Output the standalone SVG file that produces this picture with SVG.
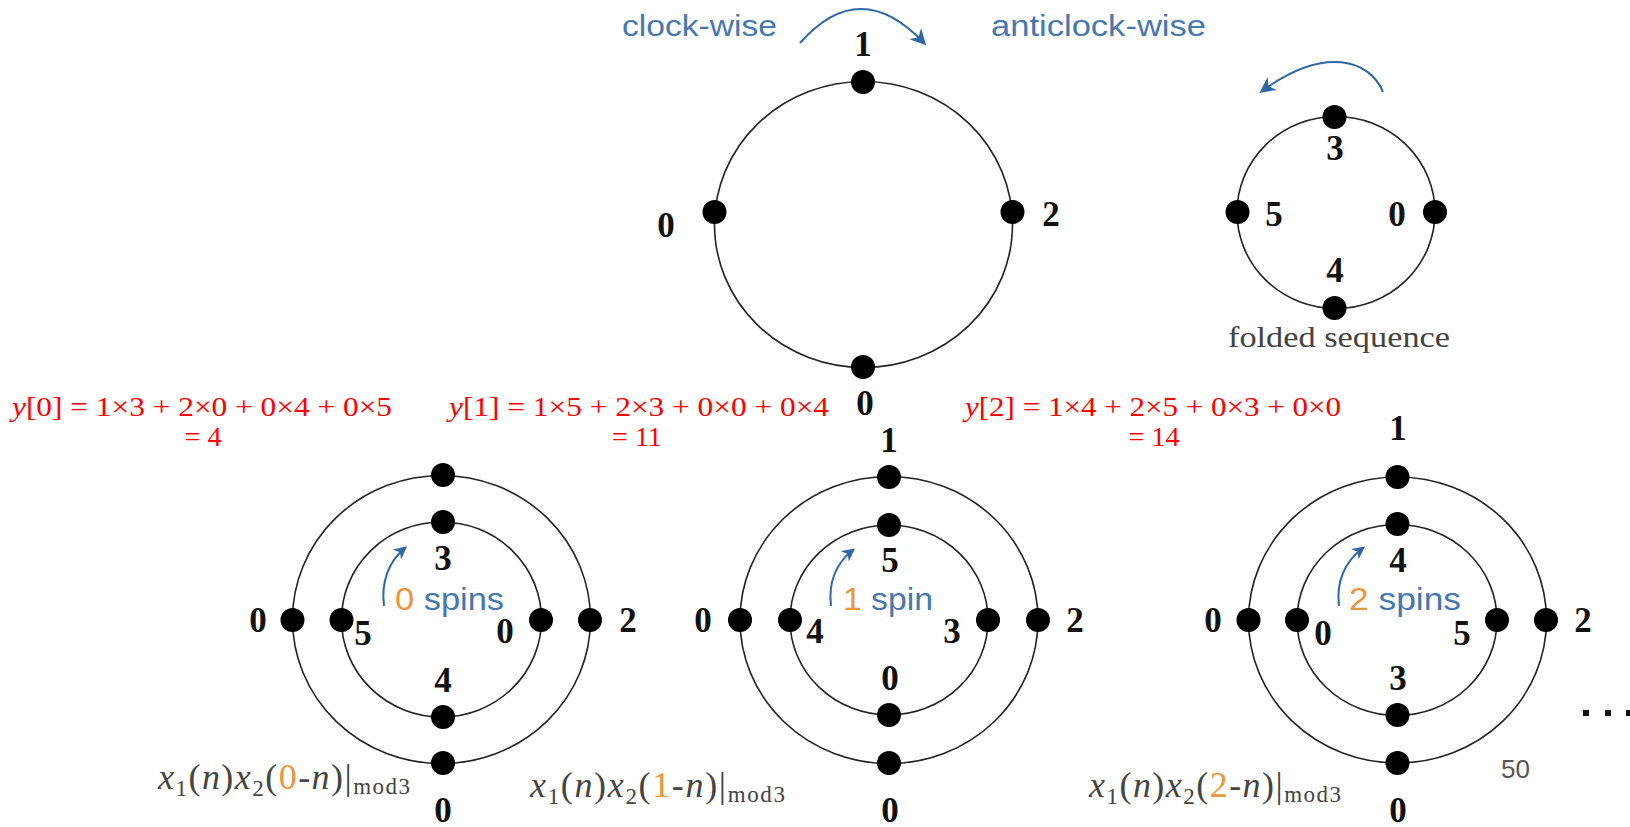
<svg xmlns="http://www.w3.org/2000/svg" width="1630" height="827" viewBox="0 0 1630 827">
<defs>
<marker id="ah" viewBox="0 0 10 10" refX="8" refY="5" markerWidth="16" markerHeight="16" markerUnits="userSpaceOnUse" orient="auto">
<path d="M0,0 L10,5 L0,10 L3,5 z" fill="#2f67a6"/>
</marker>
<marker id="ahs" viewBox="0 0 10 10" refX="8" refY="5" markerWidth="13" markerHeight="13" markerUnits="userSpaceOnUse" orient="auto">
<path d="M0,0 L10,5 L0,10 L3,5 z" fill="#2f67a6"/>
</marker>
</defs>
<style>
.ring{fill:none;stroke:#222;stroke-width:1.6}
.dot{fill:#000}
.num{font-family:"Liberation Serif",serif;font-weight:bold;font-size:35px;fill:#111;text-anchor:middle}
.blue{font-family:"Liberation Sans",Arial,sans-serif;font-size:30px;fill:#4677b0}
.spin{font-family:"Liberation Sans",Arial,sans-serif;font-size:31px;fill:#4677b0}
.or{fill:#e8973c}
.arr{fill:none;stroke:#2f67a6;stroke-width:2}
.red{font-family:"Liberation Serif",serif;font-size:28px;fill:#f00}
.fx{font-family:"Liberation Serif",serif;font-size:36px;fill:#444}
.gray{font-family:"Liberation Serif",serif;font-size:30px;fill:#444}
</style>
<rect width="1630" height="827" fill="#fff"/>

<g id="connectors">
<path class="arr" d="M800,43 Q860,-25 924,43" marker-end="url(#ah)"/>
<path class="arr" d="M1383,92 C1370,60 1325,45 1262,91" marker-end="url(#ah)"/>
<path class="arr" d="M384,606 C381,583 388,562 405,548" marker-end="url(#ahs)"/>
<path class="arr" d="M831,606 C828,583 836,563 853,550" marker-end="url(#ahs)"/>
<path class="arr" d="M1339,606 C1336,583 1344,562 1363,548" marker-end="url(#ahs)"/>
</g>

<g id="direction-labels">
<text class="blue" x="622" y="36" textLength="155" lengthAdjust="spacingAndGlyphs">clock-wise</text>
<text class="blue" x="991" y="36" textLength="215" lengthAdjust="spacingAndGlyphs">anticlock-wise</text>
</g>

<g id="top-circle">
<ellipse class="ring" cx="863.5" cy="224.5" rx="149" ry="143"/>
<circle class="dot" cx="863" cy="82" r="12"/>
<circle class="dot" cx="714.5" cy="212" r="12"/>
<circle class="dot" cx="1012.5" cy="212" r="12"/>
<circle class="dot" cx="863" cy="367" r="12"/>
<text class="num" x="863" y="56">1</text>
<text class="num" x="666" y="237">0</text>
<text class="num" x="1051" y="226">2</text>
<text class="num" x="865" y="415">0</text>
</g>

<g id="folded-circle">
<ellipse class="ring" cx="1336" cy="212.5" rx="99" ry="96"/>
<circle class="dot" cx="1334.5" cy="117" r="12"/>
<circle class="dot" cx="1237.5" cy="212" r="12"/>
<circle class="dot" cx="1435" cy="212" r="12"/>
<circle class="dot" cx="1334.5" cy="308" r="12"/>
<text class="num" x="1335" y="160">3</text>
<text class="num" x="1274" y="226">5</text>
<text class="num" x="1397" y="226">0</text>
<text class="num" x="1335" y="282">4</text>
<text class="gray" x="1228" y="347" textLength="222" lengthAdjust="spacingAndGlyphs">folded sequence</text>
</g>

<g id="equations">
<text class="red" x="12" y="416" textLength="380" lengthAdjust="spacingAndGlyphs"><tspan font-style="italic">y</tspan>[0] = 1×3 + 2×0 + 0×4 + 0×5</text>
<text class="red" x="203" y="446" text-anchor="middle">= 4</text>
<text class="red" x="449" y="416" textLength="380" lengthAdjust="spacingAndGlyphs"><tspan font-style="italic">y</tspan>[1] = 1×5 + 2×3 + 0×0 + 0×4</text>
<text class="red" x="637" y="446" text-anchor="middle">= 11</text>
<text class="red" x="965" y="416" textLength="376" lengthAdjust="spacingAndGlyphs"><tspan font-style="italic">y</tspan>[2] = 1×4 + 2×5 + 0×3 + 0×0</text>
<text class="red" x="1154" y="446" text-anchor="middle">= 14</text>
</g>

<g id="circle-0-spins">
<ellipse class="ring" cx="441.5" cy="619.5" rx="149" ry="144"/>
<ellipse class="ring" cx="441.5" cy="619.5" rx="100" ry="97.5"/>
<circle class="dot" cx="443" cy="475" r="12"/>
<circle class="dot" cx="443" cy="522" r="12"/>
<circle class="dot" cx="292.5" cy="620" r="12"/>
<circle class="dot" cx="341.5" cy="620" r="12"/>
<circle class="dot" cx="541" cy="620" r="12"/>
<circle class="dot" cx="590" cy="620" r="12"/>
<circle class="dot" cx="443" cy="717" r="12"/>
<circle class="dot" cx="443" cy="763" r="12"/>
<text class="num" x="258" y="632">0</text>
<text class="num" x="628" y="632">2</text>
<text class="num" x="443" y="570">3</text>
<text class="num" x="363" y="645">5</text>
<text class="num" x="505" y="643">0</text>
<text class="num" x="443" y="692">4</text>
<text class="num" x="443" y="822">0</text>
<text class="spin" x="395" y="610" textLength="109" lengthAdjust="spacingAndGlyphs"><tspan class="or">0</tspan> spins</text>
<text class="fx" x="158" y="789" textLength="252" lengthAdjust="spacing"><tspan font-style="italic">x</tspan><tspan font-size="23" dy="7">1</tspan><tspan dy="-7">(</tspan><tspan font-style="italic">n</tspan>)<tspan font-style="italic">x</tspan><tspan font-size="23" dy="7">2</tspan><tspan dy="-7">(</tspan><tspan class="or">0</tspan>-<tspan font-style="italic">n</tspan>)|<tspan font-size="23" dy="5">mod3</tspan></text>
</g>

<g id="circle-1-spin">
<ellipse class="ring" cx="889" cy="620" rx="149" ry="143.5"/>
<ellipse class="ring" cx="889" cy="620" rx="99" ry="95"/>
<circle class="dot" cx="889" cy="477" r="12"/>
<circle class="dot" cx="889" cy="525" r="12"/>
<circle class="dot" cx="740" cy="620" r="12"/>
<circle class="dot" cx="790" cy="620" r="12"/>
<circle class="dot" cx="988" cy="620" r="12"/>
<circle class="dot" cx="1038" cy="620" r="12"/>
<circle class="dot" cx="889" cy="715" r="12"/>
<circle class="dot" cx="889" cy="763" r="12"/>
<text class="num" x="889" y="452">1</text>
<text class="num" x="703" y="632">0</text>
<text class="num" x="1075" y="632">2</text>
<text class="num" x="890" y="572">5</text>
<text class="num" x="815" y="643">4</text>
<text class="num" x="952" y="643">3</text>
<text class="num" x="890" y="690">0</text>
<text class="num" x="890" y="822">0</text>
<text class="spin" x="843" y="610" textLength="90" lengthAdjust="spacingAndGlyphs"><tspan class="or">1</tspan> spin</text>
<text class="fx" x="530" y="797" textLength="255" lengthAdjust="spacing"><tspan font-style="italic">x</tspan><tspan font-size="23" dy="7">1</tspan><tspan dy="-7">(</tspan><tspan font-style="italic">n</tspan>)<tspan font-style="italic">x</tspan><tspan font-size="23" dy="7">2</tspan><tspan dy="-7">(</tspan><tspan class="or">1</tspan>-<tspan font-style="italic">n</tspan>)|<tspan font-size="23" dy="5">mod3</tspan></text>
</g>

<g id="circle-2-spins">
<ellipse class="ring" cx="1397.5" cy="620" rx="149" ry="143"/>
<ellipse class="ring" cx="1397" cy="620" rx="100" ry="95.5"/>
<circle class="dot" cx="1397.5" cy="477" r="12"/>
<circle class="dot" cx="1397.5" cy="524" r="12"/>
<circle class="dot" cx="1248.5" cy="620" r="12"/>
<circle class="dot" cx="1297" cy="620" r="12"/>
<circle class="dot" cx="1497" cy="620" r="12"/>
<circle class="dot" cx="1546" cy="620" r="12"/>
<circle class="dot" cx="1397.5" cy="715" r="12"/>
<circle class="dot" cx="1397.5" cy="763" r="12"/>
<text class="num" x="1398" y="440">1</text>
<text class="num" x="1213" y="632">0</text>
<text class="num" x="1583" y="632">2</text>
<text class="num" x="1398" y="572">4</text>
<text class="num" x="1323" y="645">0</text>
<text class="num" x="1462" y="645">5</text>
<text class="num" x="1398" y="690">3</text>
<text class="num" x="1398" y="822">0</text>
<text class="spin" x="1349" y="610" textLength="112" lengthAdjust="spacingAndGlyphs"><tspan class="or">2</tspan> spins</text>
<text class="fx" x="1089" y="797" textLength="252" lengthAdjust="spacing"><tspan font-style="italic">x</tspan><tspan font-size="23" dy="7">1</tspan><tspan dy="-7">(</tspan><tspan font-style="italic">n</tspan>)<tspan font-style="italic">x</tspan><tspan font-size="23" dy="7">2</tspan><tspan dy="-7">(</tspan><tspan class="or">2</tspan>-<tspan font-style="italic">n</tspan>)|<tspan font-size="23" dy="5">mod3</tspan></text>
</g>

<g id="ellipsis">
<rect x="1583" y="710" width="6" height="6" fill="#111"/>
<rect x="1605" y="710" width="6" height="6" fill="#111"/>
<rect x="1626" y="710" width="6" height="6" fill="#111"/>
</g>
<text x="1501" y="778" font-family="Liberation Sans,Arial,sans-serif" font-size="26" fill="#555">50</text>
</svg>
